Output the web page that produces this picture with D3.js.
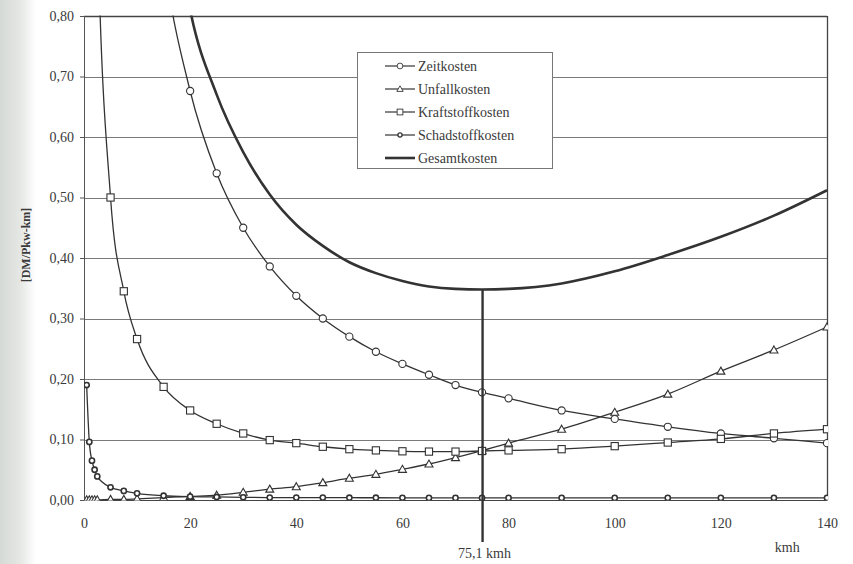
<!DOCTYPE html>
<html>
<head>
  <meta charset="utf-8">
  <style type="text/css">
	body { margin: 0; background: #fff; }
	text { font-family: "Liberation Serif", "DejaVu Serif", serif; fill: #3a3a3a; }
  </style>
</head>
<body>
<svg width="853" height="564"></svg>
<script src="https://d3js.org/d3.v7.min.js"></script>
<script>
	// speeds in kmh, values in DM per Pkw-km
	var speeds = [0.5, 1, 1.5, 2, 2.5, 5, 7.5, 10, 15, 20, 25, 30, 35, 40, 45, 50, 55, 60, 65, 70, 75, 80, 90, 100, 110, 120, 130, 140];

	var zeitkosten = [27, 13.5, 9, 6.75, 5.4, 2.7, 1.8, 1.35, 0.9, 0.676, 0.54, 0.45, 0.386, 0.3375, 0.30, 0.27, 0.245, 0.225, 0.207, 0.19, 0.178, 0.168, 0.148, 0.134, 0.121, 0.110, 0.102, 0.094];
	var unfallkosten = [0.0003, 0.0003, 0.0003, 0.0003, 0.0003, 0.001, 0.001, 0.002, 0.004, 0.006, 0.008, 0.0127, 0.018, 0.022, 0.0287, 0.036, 0.0424, 0.0507, 0.0595, 0.070, 0.0815, 0.094, 0.117, 0.145, 0.175, 0.213, 0.248, 0.286];
	var kraftstoffkosten = [4.7, 2.37, 1.59, 1.2, 0.97, 0.50, 0.345, 0.266, 0.187, 0.148, 0.126, 0.110, 0.099, 0.094, 0.088, 0.084, 0.082, 0.0805, 0.080, 0.080, 0.081, 0.082, 0.084, 0.089, 0.095, 0.101, 0.110, 0.117];
	var schadstoffkosten = [0.19, 0.096, 0.065, 0.05, 0.039, 0.021, 0.015, 0.011, 0.007, 0.0055, 0.005, 0.0045, 0.004, 0.004, 0.004, 0.0038, 0.0037, 0.0036, 0.0035, 0.0035, 0.0035, 0.0035, 0.0035, 0.0035, 0.0035, 0.0035, 0.0035, 0.0035];
	var gesamtkosten = [32, 16, 10.7, 8, 6.4, 3.2, 2.16, 1.63, 1.1, 0.81, 0.67, 0.575, 0.505, 0.455, 0.42, 0.393, 0.375, 0.362, 0.353, 0.349, 0.348, 0.349, 0.358, 0.378, 0.405, 0.435, 0.47, 0.512];

	var yTicks = [0, 0.1, 0.2, 0.3, 0.4, 0.5, 0.6, 0.7, 0.8];
	var xTicks = [0, 20, 40, 60, 80, 100, 120, 140];
	var optimum = 75.1;
	var optimumCost = 0.348;

	var series = [
		{name: "Zeitkosten", values: zeitkosten, marker: "circle"},
		{name: "Unfallkosten", values: unfallkosten, marker: "triangle"},
		{name: "Kraftstoffkosten", values: kraftstoffkosten, marker: "square"},
		{name: "Schadstoffkosten", values: schadstoffkosten, marker: "dot"},
		{name: "Gesamtkosten", values: gesamtkosten, marker: null}
	];

	var svg = d3.select("svg"),
		margin = {top: 16, right: 26, bottom: 64, left: 84},
		width = +svg.attr("width") - margin.left - margin.right,
		height = +svg.attr("height") - margin.top - margin.bottom;

	// scanned page: greyish strip at the left edge
	var defs = svg.append("defs");
	var grad = defs.append("linearGradient").attr("id", "edge");
	grad.append("stop").attr("offset", "0%").attr("stop-color", "#d6dad6");
	grad.append("stop").attr("offset", "55%").attr("stop-color", "#e4e7e4");
	grad.append("stop").attr("offset", "100%").attr("stop-color", "#ffffff");
	svg.append("rect").attr("width", 36).attr("height", 564).attr("fill", "url(#edge)");

	defs.append("clipPath").attr("id", "plot")
		.append("rect").attr("width", width + 1).attr("height", height + 1).attr("y", -0.5);

	var g = svg.append("g").attr("transform", "translate(" + margin.left + "," + margin.top + ")");

	var x = d3.scaleLinear().domain([0, 140]).range([0, width]);
	var y = d3.scaleLinear().domain([0, 0.8]).range([height, 0]);

	// grid
	g.append("g")
		.selectAll("line")
		.data(yTicks)
		.enter().append("line")
			.attr("x1", 0)
			.attr("x2", width)
			.attr("y1", function(d) { return Math.round(y(d)) + 0.5; })
			.attr("y2", function(d) { return Math.round(y(d)) + 0.5; })
			.attr("stroke", function(d) { return d == 0.8 || d == 0 ? "#444" : "#7a7a7a"; })
			.attr("stroke-width", function(d) { return d == 0.8 ? 1.5 : 1; });

	g.append("line")
		.attr("x1", width + 0.5).attr("x2", width + 0.5)
		.attr("y1", 0).attr("y2", height)
		.attr("stroke", "#444").attr("stroke-width", 1.3);

	// axes
	var yAxis = g.append("g")
		.call(d3.axisLeft(y).tickValues(yTicks).tickSize(4).tickPadding(6)
			.tickFormat(function(d) { return d3.format(".2f")(d).replace(".", ","); }));
	yAxis.select(".domain").attr("stroke", "#555");
	yAxis.selectAll(".tick line").attr("stroke", "#555");
	yAxis.selectAll("text").attr("font-size", 14).attr("fill", "#3a3a3a")
		.attr("font-family", "Liberation Serif");

	var xAxis = g.append("g")
		.attr("transform", "translate(0," + height + ")")
		.call(d3.axisBottom(x).tickValues(xTicks).tickSize(0).tickPadding(18).tickFormat(d3.format("d")));
	xAxis.select(".domain").remove();
	xAxis.selectAll("text").attr("font-size", 14).attr("fill", "#3a3a3a")
		.attr("font-family", "Liberation Serif");

	g.append("text")
		.attr("x", x(132.5))
		.attr("y", height + 52)
		.attr("text-anchor", "middle")
		.attr("font-size", 14)
		.text("kmh");

	svg.append("text")
		.attr("transform", "translate(30,245) rotate(-90)")
		.attr("text-anchor", "middle")
		.attr("font-size", 12)
		.attr("font-weight", "bold")
		.text("[DM/Pkw-km]");

	// curves
	var line = d3.line()
		.x(function(d) { return x(d[0]); })
		.y(function(d) { return y(d[1]); })
		.curve(d3.curveMonotoneX);

	var plot = g.append("g").attr("clip-path", "url(#plot)");

	series.forEach(function(s) {
		var pts = speeds.map(function(v, i) { return [v, s.values[i]]; });
		plot.append("path")
			.datum(pts)
			.attr("fill", "none")
			.attr("stroke", "#333")
			.attr("stroke-width", s.marker ? 1.3 : 2.6)
			.attr("d", line);
	});

	function drawMarker(sel, type) {
		if (type == "circle") {
			sel.append("circle").attr("r", 3.6).attr("fill", "#fff").attr("stroke", "#333").attr("stroke-width", 1.1);
		} else if (type == "square") {
			sel.append("rect").attr("x", -3.6).attr("y", -3.6).attr("width", 7.2).attr("height", 7.2)
				.attr("fill", "#fff").attr("stroke", "#333").attr("stroke-width", 1.1);
		} else if (type == "triangle") {
			sel.append("path").attr("d", "M0,-4L4,3L-4,3Z")
				.attr("fill", "#fff").attr("stroke", "#333").attr("stroke-width", 1.1);
		} else if (type == "dot") {
			sel.append("circle").attr("r", 2.6).attr("fill", "#fff").attr("stroke", "#333").attr("stroke-width", 1.6);
		}
	}

	series.forEach(function(s) {
		if (!s.marker) return;
		var pts = speeds.map(function(v, i) { return [v, s.values[i]]; })
			.filter(function(d) { return d[1] <= 0.8; });
		plot.append("g")
			.selectAll("g")
			.data(pts)
			.enter().append("g")
				.attr("transform", function(d) { return "translate(" + x(d[0]) + "," + y(d[1]) + ")"; })
				.call(drawMarker, s.marker);
	});

	// optimum speed marker
	g.append("line")
		.attr("x1", x(optimum)).attr("x2", x(optimum))
		.attr("y1", y(optimumCost)).attr("y2", height + 42)
		.attr("stroke", "#333").attr("stroke-width", 2.4);

	g.append("text")
		.attr("x", x(optimum) + 2)
		.attr("y", height + 58)
		.attr("text-anchor", "middle")
		.attr("font-size", 14)
		.text(d3.format(".1f")(optimum).replace(".", ",") + " kmh");

	// legend
	var legend = svg.append("g").attr("transform", "translate(357,52)");
	legend.append("rect")
		.attr("x", 0.5).attr("y", 0.5)
		.attr("width", 195).attr("height", 116)
		.attr("fill", "#fff").attr("stroke", "#777");

	var item = legend.selectAll(".item")
		.data(series)
		.enter().append("g")
			.attr("class", "item")
			.attr("transform", function(d, i) { return "translate(0," + (14 + i * 23) + ")"; });

	item.append("line")
		.attr("x1", 28).attr("x2", 58)
		.attr("stroke", "#333")
		.attr("stroke-width", function(d) { return d.marker ? 1.2 : 2.6; });

	item.each(function(d) {
		if (d.marker) {
			var m = d3.select(this).append("g").attr("transform", "translate(43,0)");
			drawMarker(m, d.marker);
			m.selectAll("*").attr("transform", "scale(0.8)");
		}
	});

	item.append("text")
		.attr("x", 61)
		.attr("dy", "0.35em")
		.attr("font-size", 14)
		.text(function(d) { return d.name; });
</script>
</body>
</html>
